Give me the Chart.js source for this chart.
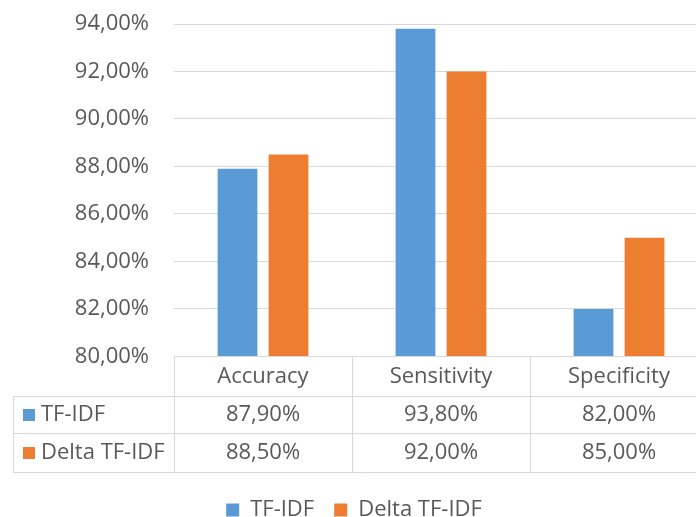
<!DOCTYPE html>
<html>
<head>
<meta charset="utf-8">
<script src="https://cdn.jsdelivr.net/npm/chart.js@4/dist/chart.umd.min.js"></script>
<style>
  html, body { margin: 0; padding: 0; background: #fff; overflow: hidden; }
  #wrap { width: 710px; height: 517px; position: relative; }
</style>
</head>
<body>
<div id="wrap"><canvas id="c"></canvas></div>
<script>
// Categories and series
const categories = ['Accuracy', 'Sensitivity', 'Specificity'];
const seriesNames = ['TF-IDF', 'Delta TF-IDF'];
const tfidfValues = [87.9, 93.8, 82.0];
const deltaValues = [88.5, 92.0, 85.0];
const yTicks = [80, 82, 84, 86, 88, 90, 92, 94];

const BLUE = '#5B9BD5';
const ORANGE = '#ED7D31';
const TEXT = '#595959';
const LINE = '#D9D9D9';
const FONT = "'Open Sans', 'Noto Sans', sans-serif";
const FONT_SIZE = 22;

const fmt = v => v.toFixed(2).replace('.', ',') + '%';

// Data table under the plot: header row with categories, one row per series
const dataTable = {
  id: 'dataTable',
  afterDraw(chart) {
    const { ctx, chartArea } = chart;
    const x = chart.scales.x;
    const catW = (x.right - x.left) / categories.length;
    const top = chartArea.bottom;
    const rowH = [40, 37, 39];
    const rowY = [top, top + rowH[0], top + rowH[0] + rowH[1], top + rowH[0] + rowH[1] + rowH[2]];
    const tableLeft = 13;
    const right = chart.width;

    ctx.save();
    ctx.strokeStyle = LINE;
    ctx.lineWidth = 1;
    ctx.beginPath();
    // horizontal rules
    ctx.moveTo(x.left, Math.round(rowY[0]) + 0.5); ctx.lineTo(right, Math.round(rowY[0]) + 0.5);
    for (let r = 1; r < 4; r++) {
      ctx.moveTo(tableLeft, Math.round(rowY[r]) + 0.5);
      ctx.lineTo(right, Math.round(rowY[r]) + 0.5);
    }
    // vertical rules
    ctx.moveTo(tableLeft + 0.5, rowY[1]); ctx.lineTo(tableLeft + 0.5, rowY[3]);
    for (let i = 0; i <= categories.length; i++) {
      const cx = Math.round(x.left + catW * i) + 0.5;
      ctx.moveTo(cx, rowY[0]); ctx.lineTo(cx, rowY[3]);
    }
    ctx.stroke();

    ctx.fillStyle = TEXT;
    ctx.font = FONT_SIZE + 'px ' + FONT;
    ctx.textAlign = 'center';
    ctx.textBaseline = 'middle';
    categories.forEach((c, i) => {
      ctx.fillText(c, x.getPixelForValue(i), (rowY[0] + rowY[1]) / 2);
    });
    const rows = [
      { name: seriesNames[0], color: BLUE, values: tfidfValues },
      { name: seriesNames[1], color: ORANGE, values: deltaValues }
    ];
    rows.forEach((row, r) => {
      const cy = (rowY[r + 1] + rowY[r + 2]) / 2;
      ctx.fillStyle = row.color;
      ctx.fillRect(23, Math.round(cy - 6), 12, 12);
      ctx.fillStyle = TEXT;
      ctx.textAlign = 'left';
      ctx.fillText(row.name, 41, cy);
      ctx.textAlign = 'center';
      row.values.forEach((v, i) => {
        ctx.fillText(fmt(v), x.getPixelForValue(i), cy);
      });
    });
    ctx.restore();
  }
};

new Chart(document.getElementById('c'), {
  type: 'bar',
  data: {
    labels: categories,
    datasets: [
      { label: seriesNames[0], data: tfidfValues, backgroundColor: BLUE },
      { label: seriesNames[1], data: deltaValues, backgroundColor: ORANGE }
    ]
  },
  options: {
    responsive: true,
    maintainAspectRatio: false,
    animation: false,
    layout: { padding: { top: 24, right: 2, left: 0, bottom: -14 } },
    datasets: { bar: { barPercentage: 0.78, categoryPercentage: 0.573 } },
    scales: {
      x: {
        grid: { display: false },
        border: { display: false },
        ticks: { display: false },
        afterFit(scale) { scale.height = 122.6; }
      },
      y: {
        min: yTicks[0],
        max: yTicks[yTicks.length - 1],
        afterBuildTicks(scale) { scale.ticks = yTicks.map(v => ({ value: v })); },
        afterFit(scale) {
          scale.width = 174;
          // label overhang only; the horizontal tick padding should not push the plot down
          scale.paddingTop = 12;
          scale.paddingBottom = 12;
        },
        grid: { color: LINE, drawTicks: false, lineWidth: 1 },
        border: { display: false },
        ticks: {
          padding: 25,
          color: TEXT,
          font: { size: FONT_SIZE, family: FONT },
          callback: v => fmt(v)
        }
      }
    },
    plugins: {
      legend: {
        position: 'bottom',
        labels: {
          color: TEXT,
          font: { size: FONT_SIZE, family: FONT },
          boxWidth: 13,
          boxHeight: 13,
          padding: 20
        }
      },
      tooltip: { enabled: false }
    }
  },
  plugins: [dataTable]
});
</script>
</body>
</html>
